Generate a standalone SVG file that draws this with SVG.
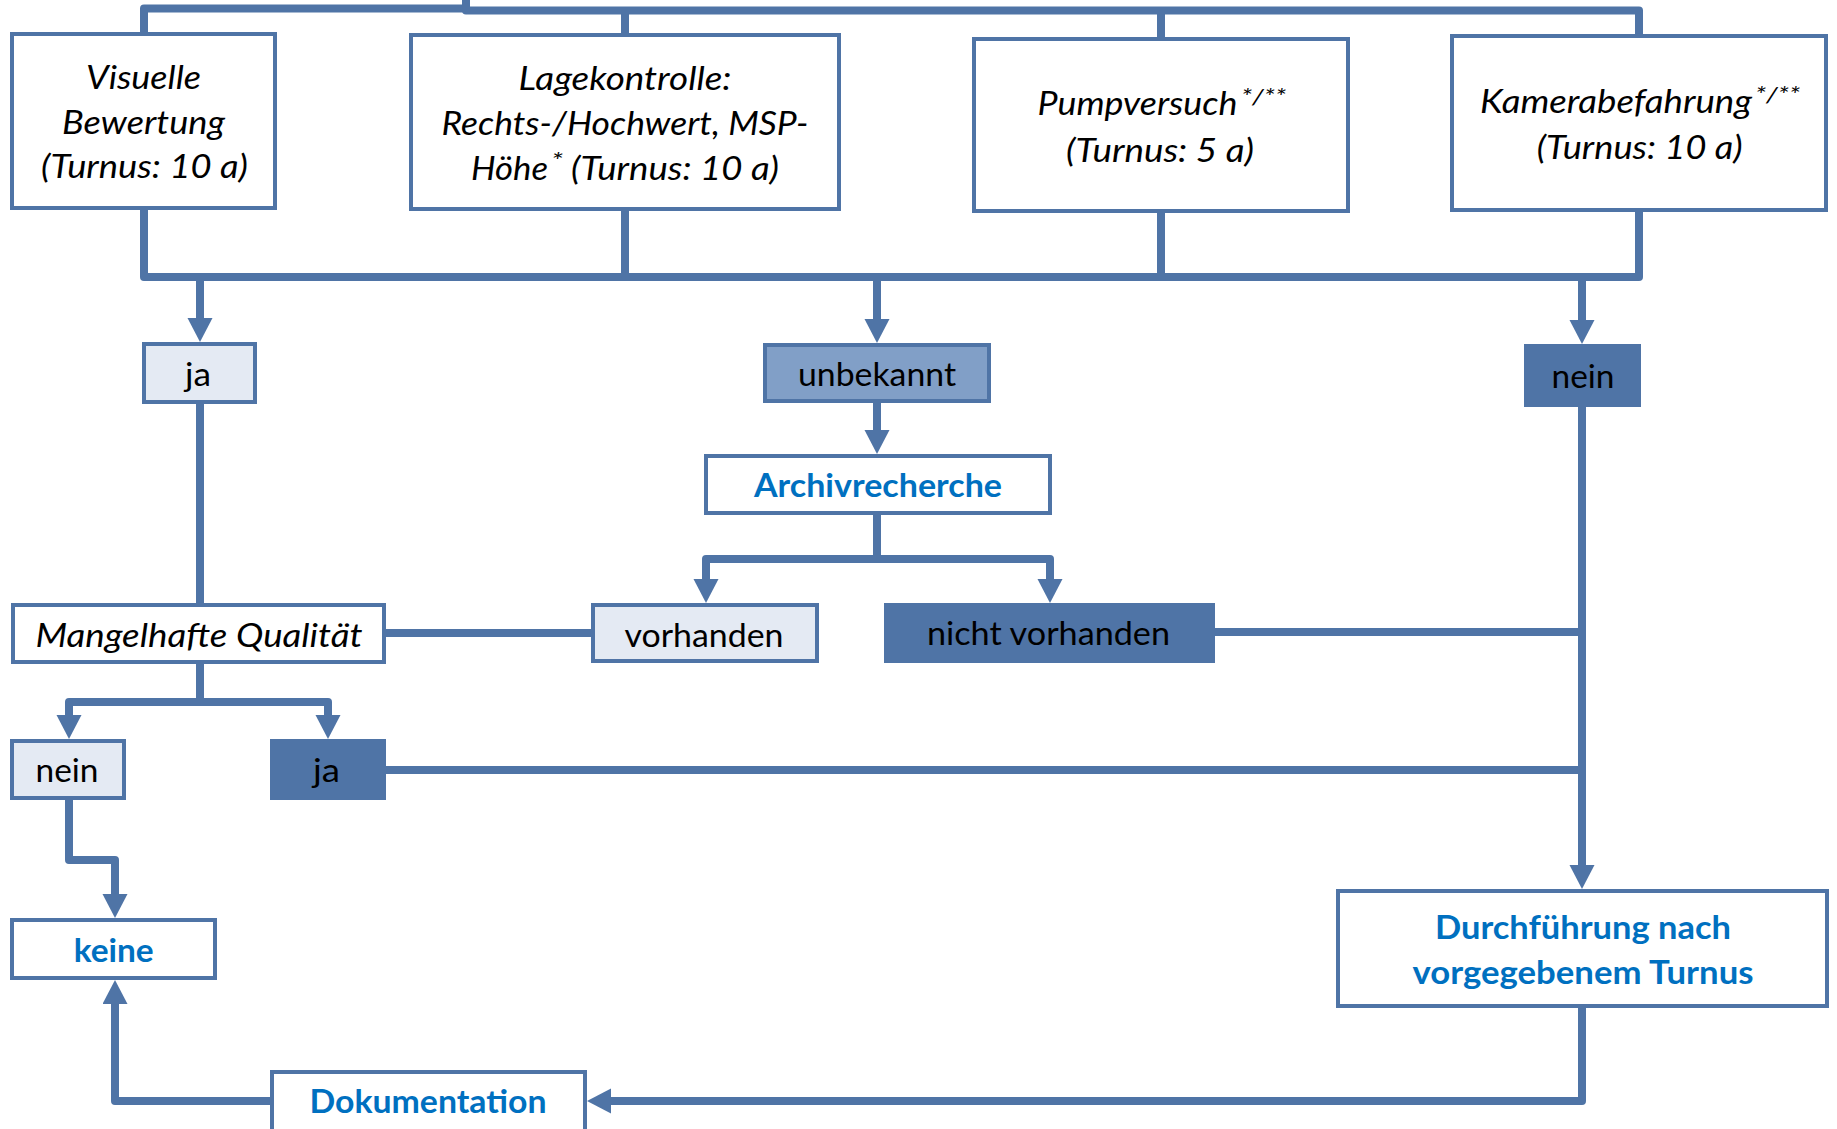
<svg xmlns="http://www.w3.org/2000/svg" width="1837" height="1129" viewBox="0 0 1837 1129">
<style>
.bx{fill:#ffffff;stroke:#4F74A6;stroke-width:4}
.lt{fill:#E4EAF3;stroke:#4F74A6;stroke-width:4}
.md{fill:#819FC7;stroke:#4F74A6;stroke-width:4}
.dk{fill:#4F74A6;stroke:#4F74A6;stroke-width:4}
.ln{fill:none;stroke:#4F74A6;stroke-width:8;stroke-linejoin:round}
.ar{marker-end:url(#ah)}
text{font-family:Lato,"Open Sans","Liberation Sans",sans-serif;font-size:32px;fill:#000}
.c{text-anchor:middle}
.i{font-style:italic}
.b{font-weight:bold;fill:#0070C0}
.s{font-size:22px}
</style>
<defs>
<marker id="ah" markerUnits="userSpaceOnUse" markerWidth="26" markerHeight="26" refX="4" refY="12.5" orient="auto">
<path d="M0,0 L24,12.5 L0,25 z" fill="#4F74A6"/>
</marker>
</defs>
<rect width="1837" height="1129" fill="#ffffff"/>
<g id="connectors">
<path class="ln" d="M144,33 V8.5 H466"/>
<path class="ln" d="M466,0 V10.5 H1639 V34"/>
<path class="ln" d="M625,10 V33"/>
<path class="ln" d="M1161,10 V37"/>
<path class="ln" d="M144,210 V277 H1639 V212"/>
<path class="ln" d="M625,211 V277"/>
<path class="ln" d="M1161,213 V277"/>
<path class="ln ar" d="M200,277 V322"/>
<path class="ln ar" d="M877,277 V323"/>
<path class="ln ar" d="M1582,277 V324"/>
<path class="ln" d="M200,404 V603"/>
<path class="ln ar" d="M877,403 V434"/>
<path class="ln ar" d="M877,515 V559 H706 V583"/>
<path class="ln ar" d="M877,559 H1050 V583"/>
<path class="ln" d="M591,633 H386"/>
<path class="ln" d="M1215,632 H1582"/>
<path class="ln ar" d="M1582,407 V869"/>
<path class="ln ar" d="M200,664 V702 H69 V719"/>
<path class="ln ar" d="M200,702 H328 V719"/>
<path class="ln" d="M386,770 H1582"/>
<path class="ln ar" d="M69,800 V860 H115 V898"/>
<path class="ln ar" d="M1582,1008 V1101 H607"/>
<path class="ln ar" d="M270,1101 H115 V1000"/>
</g>
<g id="visuelle">
<rect class="bx" x="12" y="34" width="263" height="174"/>
<text class="c i" x="143.5" y="89" textLength="115" lengthAdjust="spacingAndGlyphs">Visuelle</text>
<text class="c i" x="143.5" y="133.5" textLength="163" lengthAdjust="spacingAndGlyphs">Bewertung</text>
<text class="c i" x="144.5" y="178" textLength="207" lengthAdjust="spacingAndGlyphs">(Turnus: 10 a)</text>
</g>
<g id="lagekontrolle">
<rect class="bx" x="411" y="35" width="428" height="174"/>
<text class="c i" x="625" y="90" textLength="213" lengthAdjust="spacingAndGlyphs">Lagekontrolle:</text>
<text class="c i" x="625" y="135" textLength="367" lengthAdjust="spacingAndGlyphs">Rechts-/Hochwert, MSP-</text>
<text class="i" x="471" y="180" textLength="77" lengthAdjust="spacingAndGlyphs">Höhe</text>
<text class="i s" x="551" y="168" textLength="12" lengthAdjust="spacingAndGlyphs">*</text>
<text class="i" x="571" y="180" textLength="208" lengthAdjust="spacingAndGlyphs">(Turnus: 10 a)</text>
</g>
<g id="pumpversuch">
<rect class="bx" x="974" y="39" width="374" height="172"/>
<text class="i" x="1037.5" y="115" textLength="200" lengthAdjust="spacingAndGlyphs">Pumpversuch</text>
<text class="i s" x="1241" y="104" textLength="45" lengthAdjust="spacingAndGlyphs">*/**</text>
<text class="c i" x="1160" y="161.5" textLength="188" lengthAdjust="spacingAndGlyphs">(Turnus: 5 a)</text>
</g>
<g id="kamerabefahrung">
<rect class="bx" x="1452" y="36" width="374" height="174"/>
<text class="i" x="1480" y="113" textLength="272" lengthAdjust="spacingAndGlyphs">Kamerabefahrung</text>
<text class="i s" x="1755" y="102" textLength="45" lengthAdjust="spacingAndGlyphs">*/**</text>
<text class="c i" x="1639.7" y="159" textLength="206" lengthAdjust="spacingAndGlyphs">(Turnus: 10 a)</text>
</g>
<g id="ja1">
<rect class="lt" x="144" y="344" width="111" height="58"/>
<text class="c" x="198" y="386" textLength="26" lengthAdjust="spacingAndGlyphs">ja</text>
</g>
<g id="unbekannt">
<rect class="md" x="765" y="345" width="224" height="56"/>
<text class="c" x="877" y="386" textLength="158" lengthAdjust="spacingAndGlyphs">unbekannt</text>
</g>
<g id="nein1">
<rect class="dk" x="1526" y="346" width="113" height="59"/>
<text class="c" x="1583" y="388" textLength="63" lengthAdjust="spacingAndGlyphs">nein</text>
</g>
<g id="archivrecherche">
<rect class="bx" x="706" y="456" width="344" height="57"/>
<text class="c b" x="878" y="497" textLength="248" lengthAdjust="spacingAndGlyphs">Archivrecherche</text>
</g>
<g id="mangelhafte">
<rect class="bx" x="13" y="605" width="371" height="57"/>
<text class="c i" x="199" y="647" textLength="327" lengthAdjust="spacingAndGlyphs">Mangelhafte Qualität</text>
</g>
<g id="vorhanden">
<rect class="lt" x="593" y="605" width="224" height="56"/>
<text class="c" x="704" y="647" textLength="159" lengthAdjust="spacingAndGlyphs">vorhanden</text>
</g>
<g id="nichtvorhanden">
<rect class="dk" x="886" y="605" width="327" height="56"/>
<text class="c" x="1048.5" y="645" textLength="243" lengthAdjust="spacingAndGlyphs">nicht vorhanden</text>
</g>
<g id="nein2">
<rect class="lt" x="12" y="741" width="112" height="57"/>
<text class="c" x="67" y="782" textLength="63" lengthAdjust="spacingAndGlyphs">nein</text>
</g>
<g id="ja2">
<rect class="dk" x="272" y="741" width="112" height="57"/>
<text class="c" x="326.5" y="782" textLength="27" lengthAdjust="spacingAndGlyphs">ja</text>
</g>
<g id="keine">
<rect class="bx" x="12" y="920" width="203" height="58"/>
<text class="c b" x="113.7" y="962" textLength="80" lengthAdjust="spacingAndGlyphs">keine</text>
</g>
<g id="dokumentation">
<rect class="bx" x="272" y="1072" width="313" height="70"/>
<text class="c b" x="428" y="1113" textLength="237" lengthAdjust="spacingAndGlyphs">Dokumentation</text>
</g>
<g id="durchfuehrung">
<rect class="bx" x="1338" y="891" width="489" height="115"/>
<text class="c b" x="1583" y="939" textLength="296" lengthAdjust="spacingAndGlyphs">Durchführung nach</text>
<text class="c b" x="1583" y="984" textLength="341" lengthAdjust="spacingAndGlyphs">vorgegebenem Turnus</text>
</g>
</svg>
